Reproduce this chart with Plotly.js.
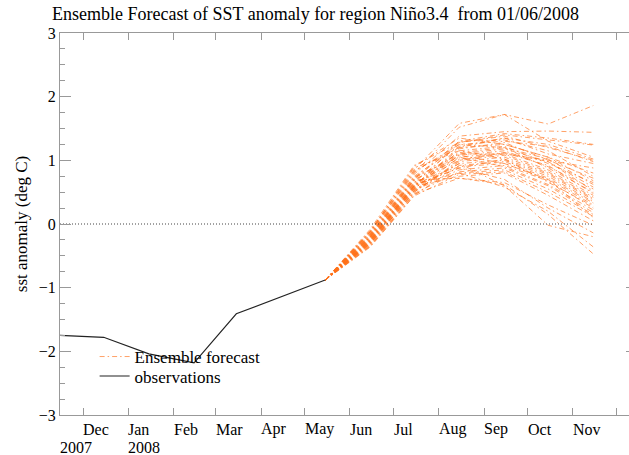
<!DOCTYPE html>
<html>
<head>
<meta charset="utf-8">
<script src="https://cdn.plot.ly/plotly-3.0.1.min.js"></script>
<style>
html,body{margin:0;padding:0;overflow:hidden;background:#fff;}
#chart{width:640px;height:455px;}
</style>
</head>
<body>
<div id="chart"></div>
<script>
// Observations (mid-month dates)
const obsDates = ['2007-11-15','2007-12-15','2008-01-15','2008-02-15','2008-03-15','2008-05-15'];
const obsValues = [-1.75, -1.78, -2.04, -2.18, -1.41, -0.88];

// Forecast months (mid-month), first point = last observation
const fcDates = ['2008-05-15','2008-06-15','2008-07-15','2008-08-15','2008-09-15','2008-10-15','2008-11-15'];

// Ensemble members: [May, Jun, Jul, Aug, Sep, Oct, Nov]
const m01 = [-0.88, -0.10, 0.85, 1.58, 1.72, 1.57, 1.86];
const m02 = [-0.88, -0.12, 0.80, 1.52, 1.72, 1.30, 1.05];
const m03 = [-0.88, -0.15, 0.78, 1.38, 1.45, 1.46, 1.44];
const m04 = [-0.88, -0.18, 0.72, 1.30, 1.42, 1.35, 1.25];
const m05 = [-0.88, -0.20, 0.70, 1.28, 1.38, 1.20, 1.00];
const m06 = [-0.88, -0.22, 0.65, 1.25, 1.30, 1.22, 0.98];
const m07 = [-0.88, -0.16, 0.75, 1.22, 1.35, 1.10, 0.95];
const m08 = [-0.88, -0.25, 0.60, 1.20, 1.25, 1.05, 0.80];
const m09 = [-0.88, -0.28, 0.58, 1.18, 1.28, 1.00, 0.72];
const m10 = [-0.88, -0.30, 0.55, 1.15, 1.22, 0.95, 0.65];
const m11 = [-0.88, -0.20, 0.68, 1.12, 1.20, 1.02, 0.62];
const m12 = [-0.88, -0.24, 0.62, 1.10, 1.18, 0.98, 0.58];
const m13 = [-0.88, -0.26, 0.60, 1.08, 1.15, 0.90, 0.55];
const m14 = [-0.88, -0.14, 0.82, 1.25, 1.20, 0.88, 0.50];
const m15 = [-0.88, -0.32, 0.52, 1.05, 1.12, 0.92, 0.48];
const m16 = [-0.88, -0.18, 0.70, 1.02, 1.10, 0.85, 0.45];
const m17 = [-0.88, -0.22, 0.64, 1.00, 1.08, 0.82, 0.42];
const m18 = [-0.88, -0.30, 0.50, 0.98, 1.05, 0.80, 0.40];
const m19 = [-0.88, -0.12, 0.88, 1.15, 1.02, 0.78, 0.38];
const m20 = [-0.88, -0.27, 0.57, 0.95, 1.00, 0.75, 0.35];
const m21 = [-0.88, -0.35, 0.45, 0.92, 0.98, 0.72, 0.33];
const m22 = [-0.88, -0.20, 0.66, 0.90, 0.95, 0.70, 0.30];
const m23 = [-0.88, -0.24, 0.60, 0.88, 1.02, 0.65, 0.28];
const m24 = [-0.88, -0.28, 0.55, 0.85, 0.92, 0.68, 0.25];
const m25 = [-0.88, -0.16, 0.74, 1.05, 0.90, 0.62, 0.22];
const m26 = [-0.88, -0.33, 0.48, 0.82, 0.88, 0.60, 0.18];
const m27 = [-0.88, -0.21, 0.63, 0.80, 0.85, 0.55, 0.15];
const m28 = [-0.88, -0.36, 0.44, 0.78, 0.82, 0.50, 0.12];
const m29 = [-0.88, -0.25, 0.59, 0.75, 0.80, 0.45, 0.05];
const m30 = [-0.88, -0.19, 0.69, 0.72, 0.65, 0.30, -0.02];
const m31 = [-0.88, -0.30, 0.52, 0.95, 0.60, -0.02, -0.20];
const m32 = [-0.88, -0.23, 0.61, 0.88, 0.70, 0.25, -0.14];
const m33 = [-0.88, -0.29, 0.54, 0.80, 0.58, 0.20, -0.36];
const m34 = [-0.88, -0.34, 0.47, 0.72, 0.62, 0.15, -0.47];
const m35 = [-0.88, -0.17, 0.72, 1.10, 1.10, 1.00, 0.88];
const m36 = [-0.88, -0.26, 0.58, 1.30, 1.32, 1.15, 0.75];
const m37 = [-0.88, -0.11, 0.90, 1.35, 1.25, 1.05, 0.68];
const m38 = [-0.88, -0.31, 0.50, 1.00, 1.12, 0.98, 0.52];
const m39 = [-0.88, -0.13, 0.84, 1.20, 1.35, 1.25, 1.02];
const m40 = [-0.88, -0.27, 0.56, 1.08, 0.95, 0.70, 0.10];
const m41 = [-0.88, -0.08, 0.92, 1.28, 1.40, 1.32, 1.24];
const members = [m01,m02,m03,m04,m05,m06,m07,m08,m09,m10,m11,m12,m13,m14,m15,m16,m17,m18,m19,m20,
                 m21,m22,m23,m24,m25,m26,m27,m28,m29,m30,m31,m32,m33,m34,m35,m36,m37,m38,m39,m40,m41];

// Zero reference line extent
const zeroDates = ['2007-11-15','2008-11-15'];
const zeroValues = [0, 0];

// Axis ticks / labels
const monthTicks = ['2007-12-01','2008-01-01','2008-02-01','2008-03-01','2008-04-01','2008-05-01','2008-06-01',
                    '2008-07-01','2008-08-01','2008-09-01','2008-10-01','2008-11-01','2008-12-01'];
const monthLabels = ['Dec','Jan','Feb','Mar','Apr','May','Jun','Jul','Aug','Sep','Oct','Nov'];
const yearLabelDates = ['2007-11-15','2008-01-01'];
const yearLabels = ['2007','2008'];

const serif = "'Liberation Serif', 'DejaVu Serif', serif";
const orange = 'rgba(255,112,25,0.66)';

const traces = [];
members.forEach((m, i) => {
  traces.push({
    x: fcDates, y: m, type: 'scatter', mode: 'lines',
    line: {color: orange, width: 1, dash: '5px,3px,1.5px,3px'},
    name: 'Ensemble forecast', legend: 'legend',
    showlegend: i === 0, hoverinfo: 'skip'
  });
});
traces.push({
  x: zeroDates, y: zeroValues, type: 'scatter', mode: 'lines',
  line: {color: '#444', width: 1, dash: '1px,2px'}, showlegend: false, hoverinfo: 'skip'
});
traces.push({
  x: obsDates, y: obsValues, type: 'scatter', mode: 'lines',
  line: {color: '#222', width: 1.1}, name: 'observations', legend: 'legend2', hoverinfo: 'skip'
});

const annotations = [];
monthLabels.forEach((lab, i) => {
  annotations.push({x: monthTicks[i], xref: 'x', y: 0, yref: 'paper', yanchor: 'middle', xanchor: 'left',
    yshift: -14, xshift: -2, text: lab, showarrow: false, font: {family: serif, size: 16, color: '#000'}});
});
yearLabels.forEach((lab, i) => {
  annotations.push({x: yearLabelDates[i], xref: 'x', y: 0, yref: 'paper', yanchor: 'middle', xanchor: 'left',
    yshift: -32, xshift: -2, text: lab, showarrow: false, font: {family: serif, size: 16, color: '#000'}});
});

const legendBase = {x: 0.06, xanchor: 'left', yanchor: 'top', bgcolor: 'rgba(0,0,0,0)',
  font: {family: serif, size: 17, color: '#000'}, borderwidth: 0};

const layout = {
  width: 640, height: 455,
  margin: {l: 60, r: 3, t: 33, b: 40},
  paper_bgcolor: '#fff', plot_bgcolor: '#fff',
  font: {family: serif, size: 16, color: '#000'},
  title: {text: 'Ensemble Forecast of SST anomaly for region Niño3.4\u00a0 from 01/06/2008',
    font: {family: serif, size: 18, color: '#000'},
    x: 52/640, xref: 'container', xanchor: 'left', y: 1 - 14/455, yref: 'container', yanchor: 'middle'},
  xaxis: {
    type: 'date', range: ['2007-11-15', '2008-12-15'],
    tickmode: 'array', tickvals: monthTicks, showticklabels: false,
    ticks: 'inside', ticklen: 7, tickcolor: '#999', tickwidth: 1,
    showline: true, linecolor: '#999', linewidth: 1, mirror: 'ticks',
    showgrid: false, zeroline: false
  },
  yaxis: {
    range: [-3, 3], dtick: 1, tick0: 0,
    ticks: 'inside', ticklen: 11, tickcolor: '#999', tickwidth: 1,
    minor: {dtick: 0.25, ticks: 'inside', ticklen: 5, tickcolor: '#999', showgrid: false},
    showline: true, linecolor: '#999', linewidth: 1, mirror: 'ticks',
    showgrid: false, zeroline: false,
    tickfont: {family: serif, size: 16, color: '#000'},
    title: {text: 'sst anomaly (deg C)', font: {family: serif, size: 17, color: '#000'}, standoff: 6}
  },
  legend: Object.assign({}, legendBase, {y: 0.199}),
  legend2: Object.assign({}, legendBase, {y: 0.148}),
  annotations: annotations,
  showlegend: true
};

Plotly.newPlot('chart', traces, layout, {staticPlot: true, displayModeBar: false});
</script>
</body>
</html>
